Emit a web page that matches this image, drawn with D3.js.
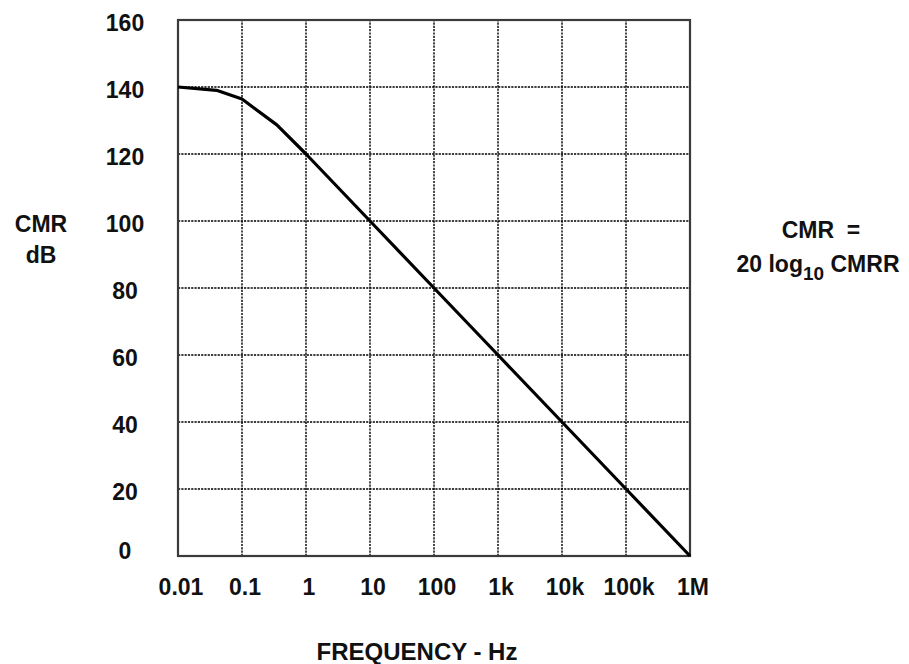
<!DOCTYPE html>
<html lang="en">
<head>
	<meta charset="utf-8">
	<script src="https://d3js.org/d3.v7.min.js"></script>
	<style>
		body { margin: 0; background: #fff; }
		text { font-family: "Liberation Sans", Arial, sans-serif; font-weight: bold; fill: #111; }
	</style>
</head>
<body>
	<div id="chart"></div>

	<script>
		// data
		var freqs = [0.01, 0.04, 0.1, 0.35, 1, 10, 100, 1e3, 1e4, 1e5, 1e6];
		var cmrDb = [140, 139, 136.4, 128.7, 120, 100, 80, 60, 40, 20, 0];

		var xTicks = [0.01, 0.1, 1, 10, 100, 1e3, 1e4, 1e5, 1e6];
		var xTickLabels = ["0.01", "0.1", "1", "10", "100", "1k", "10k", "100k", "1M"];
		var yTicks = [0, 20, 40, 60, 80, 100, 120, 140, 160];

		var width = 909,
		    height = 664,
		    margin = {top: 20, left: 178, right: 219, bottom: 108};

		var svg = d3.select("#chart").append("svg")
		  .attr("width", width)
		  .attr("height", height);

		var x = d3.scaleLog()
		  .domain([0.01, 1e6])
		  .range([margin.left, width - margin.right]);

		var y = d3.scaleLinear()
		  .domain([0, 160])
		  .range([height - margin.bottom, margin.top]);

		// dotted grid
		svg.append("g")
		  .selectAll("line")
		  .data(xTicks.slice(1, -1))
		  .enter().append("line")
		  .attr("x1", function(d){ return x(d); })
		  .attr("x2", function(d){ return x(d); })
		  .attr("y1", y(0))
		  .attr("y2", y(160))
		  .style("stroke", "#000")
		  .style("stroke-width", 1.4)
		  .style("stroke-dasharray", "2.2,1.1");

		svg.append("g")
		  .selectAll("line")
		  .data(yTicks.slice(1, -1))
		  .enter().append("line")
		  .attr("x1", x(0.01))
		  .attr("x2", x(1e6))
		  .attr("y1", function(d){ return y(d); })
		  .attr("y2", function(d){ return y(d); })
		  .style("stroke", "#000")
		  .style("stroke-width", 1.4)
		  .style("stroke-dasharray", "2.2,1.1");

		// frame
		svg.append("rect")
		  .attr("x", x(0.01))
		  .attr("y", y(160))
		  .attr("width", x(1e6) - x(0.01))
		  .attr("height", y(0) - y(160))
		  .style("fill", "none")
		  .style("stroke", "#3a3a3a")
		  .style("stroke-width", 2.2);

		// curve
		var line = d3.line()
		  .x(function(d, i){ return x(freqs[i]); })
		  .y(function(d){ return y(d); });

		svg.append("path")
		  .datum(cmrDb)
		  .attr("d", line)
		  .style("fill", "none")
		  .style("stroke", "#000")
		  .style("stroke-width", 3.2)
		  .style("stroke-linejoin", "round");

		// tick labels
		svg.append("g")
		  .selectAll("text")
		  .data(yTicks)
		  .enter().append("text")
		  .attr("x", 125)
		  .attr("y", function(d){ return y(d) + (d === 0 ? 3 : 11); })
		  .style("text-anchor", "middle")
		  .style("font-size", "23px")
		  .text(function(d){ return d; });

		svg.append("g")
		  .selectAll("text")
		  .data(xTicks)
		  .enter().append("text")
		  .attr("x", function(d){ return x(d) + 3; })
		  .attr("y", 595)
		  .style("text-anchor", "middle")
		  .style("font-size", "23px")
		  .text(function(d, i){ return xTickLabels[i]; });

		// axis titles
		svg.append("text")
		  .attr("x", 41)
		  .attr("y", 232)
		  .style("text-anchor", "middle")
		  .style("font-size", "23px")
		  .text("CMR");
		svg.append("text")
		  .attr("x", 41)
		  .attr("y", 263)
		  .style("text-anchor", "middle")
		  .style("font-size", "23px")
		  .text("dB");

		svg.append("text")
		  .attr("x", 417)
		  .attr("y", 660)
		  .style("text-anchor", "middle")
		  .style("font-size", "24px")
		  .text("FREQUENCY - Hz");

		// formula note
		svg.append("text")
		  .attr("x", 821)
		  .attr("y", 238)
		  .style("text-anchor", "middle")
		  .style("font-size", "23px")
		  .style("white-space", "pre")
		  .text("CMR  =");

		var note = svg.append("text")
		  .attr("x", 818)
		  .attr("y", 272)
		  .style("text-anchor", "middle")
		  .style("font-size", "23px");
		note.append("tspan").text("20 log");
		note.append("tspan").attr("dy", 8).style("font-size", "19px").text("10");
		note.append("tspan").attr("dy", -8).text(" CMRR");
	</script>
</body>
</html>
